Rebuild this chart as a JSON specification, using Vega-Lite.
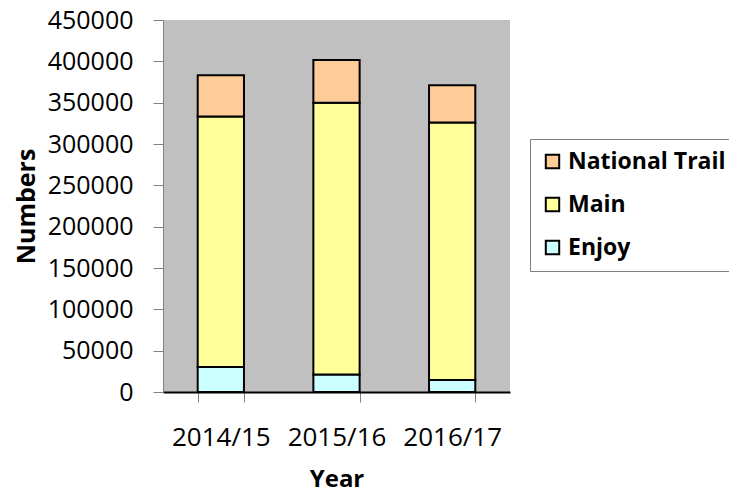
{
  "$schema": "https://vega.github.io/schema/vega-lite/v6.json",
  "width": 347,
  "height": 372,
  "autosize": {"type": "none"},
  "padding": {"left": 163, "top": 20, "right": 219, "bottom": 105},
  "background": "white",
  "config": {
    "view": {"fill": "#C0C0C0", "stroke": null},
    "font": "Open Sans"
  },
  "data": {
    "values": [
      {"Year": "2014/15", "Type": "Enjoy", "Numbers": 30200, "Order": 1},
      {"Year": "2014/15", "Type": "Main", "Numbers": 303100, "Order": 2},
      {"Year": "2014/15", "Type": "National Trail", "Numbers": 49900, "Order": 3},
      {"Year": "2015/16", "Type": "Enjoy", "Numbers": 21300, "Order": 1},
      {"Year": "2015/16", "Type": "Main", "Numbers": 328500, "Order": 2},
      {"Year": "2015/16", "Type": "National Trail", "Numbers": 51900, "Order": 3},
      {"Year": "2016/17", "Type": "Enjoy", "Numbers": 14500, "Order": 1},
      {"Year": "2016/17", "Type": "Main", "Numbers": 311600, "Order": 2},
      {"Year": "2016/17", "Type": "National Trail", "Numbers": 45000, "Order": 3}
    ]
  },
  "mark": {"type": "bar", "stroke": "black", "strokeWidth": 2},
  "encoding": {
    "x": {
      "field": "Year",
      "type": "nominal",
      "scale": {"paddingInner": 0.6, "paddingOuter": 0.3},
      "axis": {
        "title": "Year",
        "titleFontSize": 24,
        "titleFontWeight": "bold",
        "titleColor": "black",
        "titlePadding": 17,
        "labelAngle": 0,
        "labelFontSize": 26,
        "labelColor": "black",
        "labelPadding": 22,
        "tickBand": "extent",
        "tickSize": 10,
        "tickColor": "#808080",
        "domainColor": "black",
        "domainWidth": 2
      }
    },
    "y": {
      "field": "Numbers",
      "type": "quantitative",
      "aggregate": "sum",
      "stack": "zero",
      "scale": {"domain": [0, 450000]},
      "axis": {
        "title": "Numbers",
        "titleFontSize": 25,
        "titleFontWeight": "bold",
        "titleColor": "black",
        "titlePadding": 8,
        "values": [0, 50000, 100000, 150000, 200000, 250000, 300000, 350000, 400000, 450000],
        "format": "d",
        "labelFontSize": 25,
        "labelColor": "black",
        "labelPadding": 20,
        "tickSize": 10,
        "tickColor": "#808080",
        "domainColor": "#808080",
        "grid": false
      }
    },
    "color": {
      "field": "Type",
      "type": "nominal",
      "scale": {
        "domain": ["National Trail", "Main", "Enjoy"],
        "range": ["#FFCC99", "#FFFF99", "#CCFFFF"]
      },
      "legend": {
        "title": null,
        "orient": "none",
        "legendX": 367,
        "legendY": 119,
        "padding": 11,
        "strokeColor": "#808080",
        "fillColor": "white",
        "symbolType": "square",
        "symbolSize": 180,
        "symbolStrokeColor": "black",
        "symbolStrokeWidth": 2,
        "labelFontSize": 23,
        "labelFontWeight": "bold",
        "labelColor": "black",
        "labelOffset": 4,
        "rowPadding": 19
      }
    },
    "order": {"field": "Order", "type": "quantitative"}
  }
}
